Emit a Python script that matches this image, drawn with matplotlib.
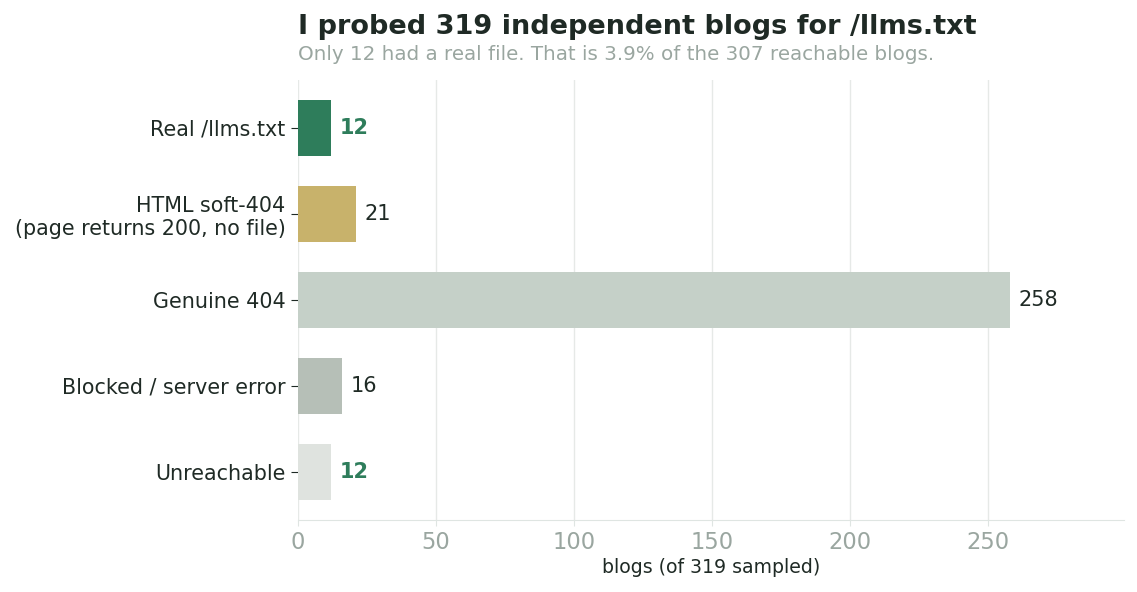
import matplotlib
matplotlib.use("Agg")
import matplotlib.pyplot as plt

categories = [
    "Real /llms.txt",
    "HTML soft-404\n(page returns 200, no file)",
    "Genuine 404",
    "Blocked / server error",
    "Unreachable",
]
counts = [12, 21, 258, 16, 12]
colors = ["#2e7d5b", "#c8b26b", "#c5d0c8", "#b6bfb7", "#dfe3df"]
highlight = [True, False, False, False, True]

fig, ax = plt.subplots(figsize=(11.37, 5.92), dpi=100)
fig.subplots_adjust(left=0.262, right=0.989, top=0.865, bottom=0.122)

ypos = list(range(len(categories)))
ax.barh(ypos, counts, height=0.65, color=colors, zorder=2)
ax.invert_yaxis()
ax.set_yticks(ypos)
ax.set_yticklabels(categories, fontsize=14.9, color="#1f2a25")
ax.set_xlim(0, max(counts) * 1.16)

# value labels; the "real" and "unreachable" counts are highlighted
for y, v, hl in zip(ypos, counts, highlight):
    ax.text(v + 3, y, str(v), va="center", ha="left", fontsize=15,
            color="#2e7d5b" if hl else "#1f2a25",
            fontweight="bold" if hl else "normal")

ax.grid(axis="x", color="#e6e9e7", linewidth=1, zorder=0)
for s in ["top", "right", "left"]:
    ax.spines[s].set_visible(False)
ax.spines["bottom"].set_color("#dfe5e2")
ax.tick_params(axis="x", colors="#dfe5e2", labelcolor="#9aa6a0", labelsize=16.3,
               length=4, pad=4)
ax.tick_params(axis="y", length=5, color="#1f2a25", pad=4)
ax.set_xlabel("blogs (of 319 sampled)", fontsize=13.6, color="#1f2a25", labelpad=3)

x0 = ax.get_position().x0
fig.text(x0, 0.943, "I probed 319 independent blogs for /llms.txt",
         fontsize=19.5, fontweight="bold", color="#1f2a25", ha="left", va="baseline")
fig.text(x0, 0.899, "Only 12 had a real file. That is 3.9% of the 307 reachable blogs.",
         fontsize=14.3, color="#9aa6a0", ha="left", va="baseline")

fig.savefig("out.png", dpi=100)
